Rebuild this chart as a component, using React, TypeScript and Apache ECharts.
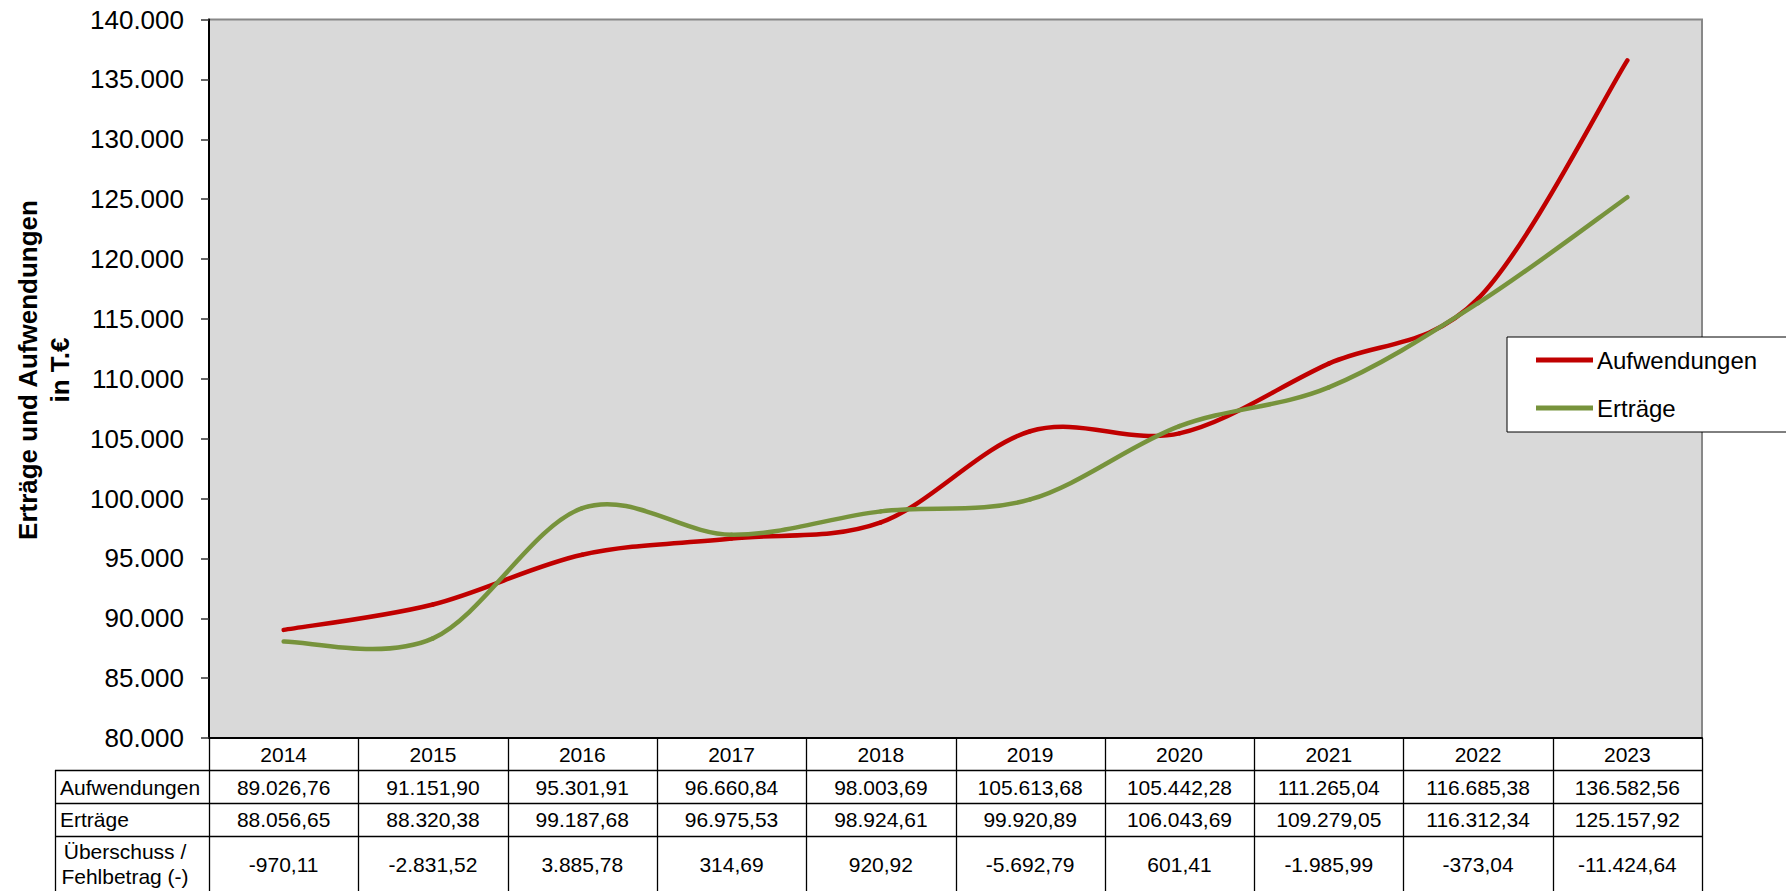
import React, { useEffect, useRef } from "react";
import * as echarts from "echarts";

const YEARS = ["2014", "2015", "2016", "2017", "2018", "2019", "2020", "2021", "2022", "2023"];
const AUFWENDUNGEN = [89026.76, 91151.9, 95301.91, 96660.84, 98003.69, 105613.68, 105442.28, 111265.04, 116685.38, 136582.56];
const ERTRAEGE = [88056.65, 88320.38, 99187.68, 96975.53, 98924.61, 99920.89, 106043.69, 109279.05, 116312.34, 125157.92];
const SALDO = [-970.11, -2831.52, 3885.78, 314.69, 920.92, -5692.79, 601.41, -1985.99, -373.04, -11424.64];
const Y_MIN = 80000;
const Y_MAX = 140000;
const Y_STEP = 5000;
const SERIES_NAMES = ["Aufwendungen", "Erträge"];
const ROW_LABELS = ["Aufwendungen", "Erträge", "Überschuss /\nFehlbetrag (-)"];
const Y_TITLE = "Erträge und Aufwendungen\nin T.€";

const FONT = "'Liberation Sans', Arial, sans-serif";
const RED = "#c00000";
const GREEN = "#77933c";

function fmtDe(v: number, dec: number): string {
  const neg = v < 0;
  const s = Math.abs(v).toFixed(dec);
  const [i, d] = s.split(".");
  const ii = i.replace(/\B(?=(\d{3})+(?!\d))/g, ".");
  return (neg ? "-" : "") + ii + (d ? "," + d : "");
}

// Excel-like smoothed line (Catmull-Rom style Bezier segments), drawn via the axes' scales
function smoothSeries(name: string, values: number[], color: string, z: number) {
  const n = values.length;
  return {
    name,
    type: "custom",
    z,
    itemStyle: { color },
    data: values.map((v, i) => [i, v]),
    encode: { x: 0, y: 1 },
    clip: true,
    renderItem: (params: any, api: any) => {
      const i = api.value(0) as number;
      if (i >= n - 1) return { type: "group", children: [] };
      const P = (k: number) => {
        const kk = Math.max(0, Math.min(n - 1, k));
        return api.coord([kk, values[kk]]) as number[];
      };
      const p0 = P(i - 1);
      const p1 = P(i);
      const p2 = P(i + 1);
      const p3 = P(i + 2);
      const t = 1 / 6;
      return {
        type: "bezierCurve",
        shape: {
          x1: p1[0],
          y1: p1[1],
          cpx1: p1[0] + (p2[0] - p0[0]) * t,
          cpy1: p1[1] + (p2[1] - p0[1]) * t,
          cpx2: p2[0] - (p3[0] - p1[0]) * t,
          cpy2: p2[1] - (p3[1] - p1[1]) * t,
          x2: p2[0],
          y2: p2[1],
        },
        style: { stroke: color, lineWidth: 4.5, fill: "none", lineCap: "round" },
      };
    },
  };
}

export default function App() {
  const ref = useRef<HTMLDivElement>(null);
  useEffect(() => {
    document.body.style.margin = "0";
    const el = ref.current!;
    const chart = echarts.init(el, null, { renderer: "svg" });
    const GL = 209;
    const GT = 19.5;
    const GR = 1702;
    const GB = 738;
    const option: any = {
      animation: false,
      backgroundColor: "#fff",
      grid: {
        left: GL,
        top: GT,
        width: GR - GL,
        height: GB - GT,
        show: true,
        backgroundColor: "#d9d9d9",
        borderColor: "#888",
        borderWidth: 2,
      },
      legend: {
        data: SERIES_NAMES,
        left: 1507,
        top: 337,
        orient: "vertical",
        padding: [11, 40, 12, 29],
        itemGap: 24,
        itemWidth: 57,
        itemHeight: 5,
        icon: "rect",
        borderColor: "#000",
        borderWidth: 1,
        backgroundColor: "#fff",
        textStyle: { fontSize: 24, color: "#000", fontFamily: FONT, padding: [0, 0, 0, -1] },
      },
      xAxis: {
        type: "category",
        data: YEARS,
        boundaryGap: true,
        axisLine: { show: true, lineStyle: { color: "#000", width: 2 } },
        axisTick: { show: false },
        axisLabel: {
          fontSize: 21,
          color: "#000",
          fontFamily: FONT,
          margin: 4,
          lineHeight: 24,
          interval: 0,
        },
        splitLine: { show: false },
      },
      yAxis: {
        type: "value",
        min: Y_MIN,
        max: Y_MAX,
        interval: Y_STEP,
        axisLine: { show: true, lineStyle: { color: "#000", width: 2 } },
        axisTick: { show: true, length: 8, lineStyle: { color: "#333", width: 1.5 } },
        axisLabel: {
          fontSize: 26,
          color: "#000",
          fontFamily: FONT,
          margin: 25,
          formatter: (v: number) => fmtDe(v, 0),
        },
        splitLine: { show: false },
      },
      series: [
        smoothSeries(SERIES_NAMES[0], AUFWENDUNGEN, RED, 2),
        smoothSeries(SERIES_NAMES[1], ERTRAEGE, GREEN, 3),
      ],
    };
    chart.setOption(option);

    const cx: number[] = YEARS.map((_, i) => chart.convertToPixel({ xAxisIndex: 0 }, i) as number);
    const band = YEARS.length > 1 ? cx[1] - cx[0] : GR - GL;
    const tableLeft = 55;
    const rowTops = [738, 770, 803, 836];
    const tableBottom = 900;
    const rowCenters = [787, 819, 864];
    const g: any[] = [];
    const line = (x1: number, y1: number, x2: number, y2: number, color = "#000") =>
      g.push({ type: "line", z: 10, shape: { x1, y1, x2, y2 }, style: { stroke: color, lineWidth: 1.3 } });

    for (let i = 0; i <= YEARS.length; i++) {
      const x = Math.round(cx[0] - band / 2 + i * band) + 0.5;
      line(x, rowTops[0], x, tableBottom);
    }
    line(tableLeft + 0.5, rowTops[1], tableLeft + 0.5, tableBottom);
    for (let r = 1; r < rowTops.length; r++) {
      line(tableLeft, rowTops[r] + 0.5, cx[cx.length - 1] + band / 2, rowTops[r] + 0.5);
    }
    const rows = [AUFWENDUNGEN, ERTRAEGE, SALDO];
    rows.forEach((vals, r) => {
      vals.forEach((v, i) => {
        g.push({
          type: "text",
          z: 10,
          x: cx[i],
          y: rowCenters[r],
          style: {
            text: fmtDe(v, 2),
            fontSize: 21,
            fontFamily: FONT,
            fill: "#000",
            align: "center",
            verticalAlign: "middle",
          },
        });
      });
    });
    ROW_LABELS.forEach((lab, r) => {
      const multi = lab.indexOf("\n") >= 0;
      g.push({
        type: "text",
        z: 10,
        x: multi ? 125 : 60,
        y: rowCenters[r],
        style: {
          text: lab,
          fontSize: 21,
          fontFamily: FONT,
          fill: "#000",
          align: multi ? "center" : "left",
          verticalAlign: "middle",
          lineHeight: 25,
        },
      });
    });
    g.push({
      type: "text",
      z: 10,
      x: 44,
      y: 370,
      rotation: Math.PI / 2,
      style: {
        text: Y_TITLE,
        fontSize: 26,
        fontWeight: "bold",
        fontFamily: FONT,
        fill: "#000",
        align: "center",
        verticalAlign: "middle",
        lineHeight: 32,
      },
    });
    chart.setOption({ graphic: g });

    return () => chart.dispose();
  }, []);
  return <div ref={ref} style={{ width: 1786, height: 891, position: "absolute", left: 0, top: 0 }} />;
}
